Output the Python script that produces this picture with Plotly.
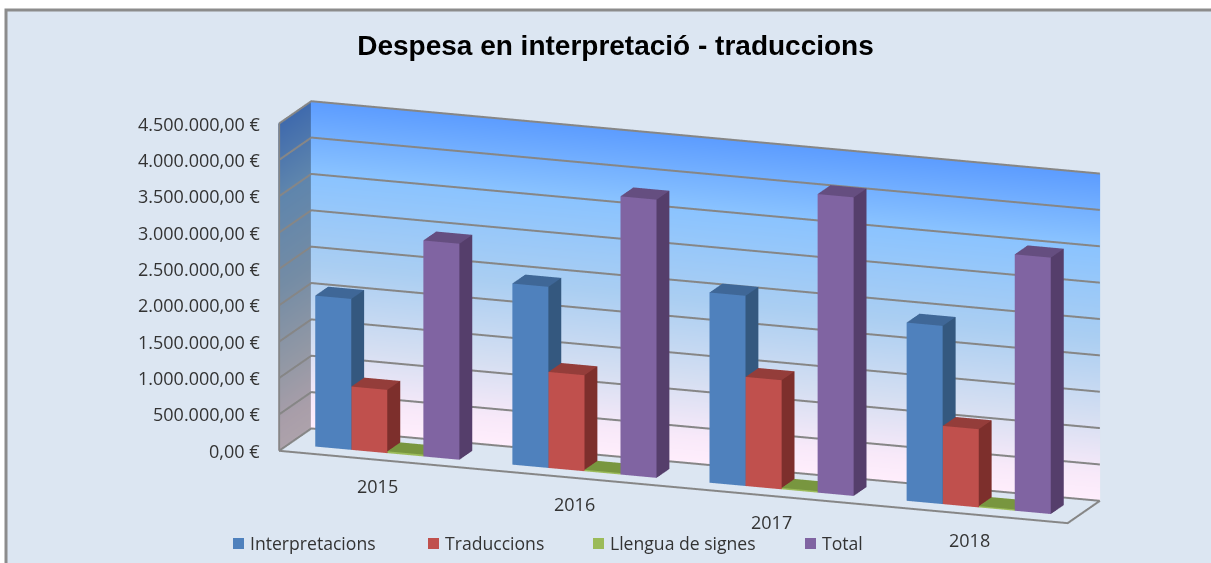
"""Despesa en interpretació - traduccions: 3D column chart (Excel look)."""
import math

import plotly.graph_objects as go

W, H = 1211, 563

years = ["2015", "2016", "2017", "2018"]
interpretacions = [2075000, 2490000, 2615000, 2450000]
traduccions = [870000, 1320000, 1500000, 1075000]
llengua_signes = [25000, 20000, 20000, 18000]
total = [2970000, 3825000, 4105000, 3525000]
z_ticks = [0, 500000, 1000000, 1500000, 2000000, 2500000, 3000000, 3500000, 4000000, 4500000]
z_labels = ["0,00 €", "500.000,00 €", "1.000.000,00 €", "1.500.000,00 €", "2.000.000,00 €",
            "2.500.000,00 €", "3.000.000,00 €", "3.500.000,00 €", "4.000.000,00 €", "4.500.000,00 €"]

# name, values, legend/front colour, side colour, top colour
series = [("Interpretacions", interpretacions, "#4F81BD", "#34587F", "#3F6797"),
          ("Traduccions", traduccions, "#C0504D", "#7D2F2C", "#943D3A"),
          ("Llengua de signes", llengua_signes, "#9BBB59", "#64802F", "#78963F"),
          ("Total", total, "#8064A2", "#553E6B", "#654E80")]
legend_swatch_px = [233, 428, 593, 805]

Z_MAX = z_ticks[-1]
BAR_W = 1 / 5.47      # 4 bars + 150% gap, in category units
Y0, Y1 = 0.3, 0.7     # bar extent in depth

# wall gradient, bottom to top
wall_stops = [(0.0, "#FFEEFC"), (0.08, "#F8E9F9"), (0.25, "#D6DFF2"), (0.5, "#AACEF2"),
              (0.78, "#8AC3FF"), (1.0, "#5C9CFF")]


def darken(c, f):
    r, g, b = (int(c[i:i + 2], 16) for i in (1, 3, 5))
    return f"rgb({r * f:.0f},{g * f:.0f},{b * f:.0f})"


def bar_mesh(name, vals, front, side, top, idx):
    xs, ys, zs, ii, jj, kk, cols = [], [], [], [], [], [], []

    def quad(p, col):
        n = len(xs)
        for a, b, c in p:
            xs.append(a), ys.append(b), zs.append(c)
        ii.extend([n, n]), jj.extend([n + 1, n + 2]), kk.extend([n + 2, n + 3])
        cols.extend([col, col])

    for c, v in enumerate(vals):
        x0 = c + (1 - 4 * BAR_W) / 2 + idx * BAR_W
        x1 = x0 + BAR_W
        quad([(x0, Y0, 0), (x1, Y0, 0), (x1, Y0, v), (x0, Y0, v)], front)
        quad([(x1, Y0, 0), (x1, Y1, 0), (x1, Y1, v), (x1, Y0, v)], side)
        quad([(x0, Y0, v), (x1, Y0, v), (x1, Y1, v), (x0, Y1, v)], top)
    return go.Mesh3d(x=xs, y=ys, z=zs, i=ii, j=jj, k=kk, facecolor=cols, flatshading=True,
                     lighting=dict(ambient=1, diffuse=0, specular=0, fresnel=0),
                     hoverinfo="skip", name=name, showlegend=False)


def wall(pts, factor):
    # pts: two (x, y) ends of the wall
    xs, ys, zs, cols, ii, jj, kk = [], [], [], [], [], [], []
    for n, (f, c) in enumerate(wall_stops):
        for px, py in pts:
            xs.append(px), ys.append(py), zs.append(f * Z_MAX), cols.append(darken(c, factor))
        if n:
            a = 2 * n - 2
            ii.extend([a, a]), jj.extend([a + 1, a + 3]), kk.extend([a + 3, a + 2])
    return go.Mesh3d(x=xs, y=ys, z=zs, i=ii, j=jj, k=kk, vertexcolor=cols,
                     lighting=dict(ambient=1, diffuse=0, specular=0, fresnel=0),
                     hoverinfo="skip", showlegend=False)


n_cat = len(years)
fig = go.Figure()
fig.add_trace(wall([(-0.004, 1.01), (n_cat, 1.01)], 1.0))
fig.add_trace(wall([(-0.004, 0), (-0.004, 1.01)], 0.68))

# gridlines on both walls + frame
gx, gy, gz = [], [], []
for t in z_ticks:
    gx += [0, 0, n_cat, None]
    gy += [0, 1, 1, None]
    gz += [t, t, t, None]
gx += [0, n_cat, n_cat, None, 0, 0]
gy += [0, 0, 1, None, 0, 0]
gz += [0, 0, 0, None, 0, Z_MAX]
fig.add_trace(go.Scatter3d(x=gx, y=gy, z=gz, mode="lines", hoverinfo="skip", showlegend=False,
                           line=dict(color="#868686", width=4)))

for idx, (name, vals, front, side, top) in enumerate(series):
    fig.add_trace(bar_mesh(name, vals, front, side, top, idx))

label_font = dict(family="Open Sans", size=18, color="#333333")
tick_notes = [dict(x=0, y=0, z=t, text=s, showarrow=False, xanchor="right", xshift=-17, font=label_font)
              for t, s in zip(z_ticks, z_labels)]
year_notes = [dict(x=c + 0.5, y=0, z=0, text=s, showarrow=False, yshift=-26, font=label_font)
              for c, s in enumerate(years)]

# legend row, hand placed to sit where Excel put it
legend_shapes = [dict(type="rect", xref="paper", yref="paper", x0=px / W, x1=(px + 11) / W,
                      y0=1 - 549 / H, y1=1 - 538 / H, fillcolor=s[2], line=dict(width=0))
                 for px, s in zip(legend_swatch_px, series)]
legend_notes = [dict(xref="paper", yref="paper", x=(px + 15) / W, y=1 - 543 / H, xanchor="left",
                     yanchor="middle", text=s[0], showarrow=False,
                     font=dict(family="Open Sans", size=17.6, color="#333333"))
                for px, s in zip(legend_swatch_px, series)]

az, el = math.radians(20), math.radians(14.6)
SCALE = 1.498         # ortho view: size comes from the aspect ratio, not the eye distance
X_RANGE = [-0.01, n_cat + 0.01]
Y_RANGE = [-0.02, 1.02]
Z_RANGE = [-10000, Z_MAX + 10000]
# ranges pad the box a little so edge lines are not clipped; keep the box itself the same size
ASPECT = dict(x=1.99 * SCALE * (X_RANGE[1] - X_RANGE[0]) / n_cat,
              y=0.2234 * SCALE * (Y_RANGE[1] - Y_RANGE[0]),
              z=0.802 * SCALE * (Z_RANGE[1] - Z_RANGE[0]) / Z_MAX)
R = 5
eye = [R * math.cos(el) * math.sin(az), -R * math.cos(el) * math.cos(az), R * math.sin(el)]
# slide the view so the box lands where it is in the reference
unit_per_px = ASPECT["x"] * math.cos(az) / 788
right = [math.cos(az), math.sin(az), 0]
up = [-math.sin(el) * math.sin(az), math.sin(el) * math.cos(az), math.cos(el)]
shift_r, shift_u = -83.5 * unit_per_px, 30.5 * unit_per_px
d = [shift_r * r + shift_u * u for r, u in zip(right, up)]

fig.update_layout(
    width=W, height=H, margin=dict(l=0, r=0, t=0, b=0),
    paper_bgcolor="white",
    title=dict(text="<b>Despesa en interpretació - traduccions</b>", x=615.5 / W, xanchor="center",
               y=1 - 45 / H, yanchor="middle",
               font=dict(family="Liberation Sans", size=28, color="black")),
    showlegend=False,
    annotations=legend_notes,
    shapes=[dict(type="rect", xref="paper", yref="paper", x0=6 / W, x1=1.1, y0=-0.1, y1=1 - 10 / H,
                 fillcolor="#DCE6F2", line=dict(color="#8C8C8C", width=3), layer="below")]
           + legend_shapes,
    scene=dict(
        domain=dict(x=[0, 1], y=[0, 1]),
        bgcolor="rgba(0,0,0,0)",
        aspectmode="manual", aspectratio=ASPECT,
        xaxis=dict(visible=False, range=X_RANGE),
        yaxis=dict(visible=False, range=Y_RANGE),
        zaxis=dict(visible=False, range=Z_RANGE),
        camera=dict(projection=dict(type="orthographic"),
                    up=dict(x=0, y=0, z=1),
                    center=dict(x=d[0], y=d[1], z=d[2]),
                    eye=dict(x=eye[0] + d[0], y=eye[1] + d[1], z=eye[2] + d[2])),
        annotations=tick_notes + year_notes,
    ),
)

fig.write_html("out.html", config={"displayModeBar": False},
               post_script="document.body.style.margin='0';")
